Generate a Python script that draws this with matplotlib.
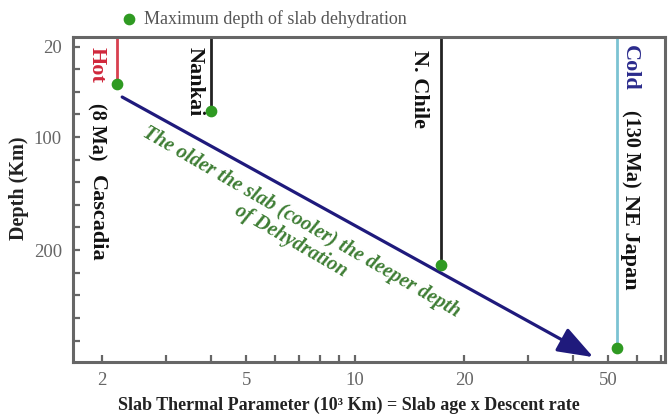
import matplotlib.pyplot as plt
from matplotlib.ticker import FixedLocator, FixedFormatter, NullFormatter

plt.rcParams['font.family'] = ['Liberation Serif', 'DejaVu Serif']

# subduction zones: slab thermal parameter (10^3 km) and max depth of dehydration (km)
zones = ['Cascadia', 'Nankai', 'N. Chile', 'NE Japan']
thermal_param = [2.19, 4.0, 17.3, 52.9]
max_depth = [53, 77, 213, 287]
line_colors = ['#d8404f', '#222222', '#222222', '#7cc3d3']

# trend arrow (start, end)
trend_x = [2.27, 45.5]
trend_y = [64.6, 294.7]

x_ticks = [2, 5, 10, 20, 50]
x_minor = [3, 4, 6, 7, 8, 9, 30, 40, 60, 70]
y_ticks = [20, 100, 200]
y_minor = [40, 60, 80, 120, 140, 160, 180, 220, 240, 260, 280]

y_top = 11.5
y_bottom = 299

fig = plt.figure(figsize=(6.7, 4.18), dpi=100)
ax = fig.add_axes([73/670, 1-362/418, 592/670, 325/418])

ax.set_xscale('log')
ax.set_xlim(1.66, 71.8)
ax.set_ylim(y_bottom, y_top)

# vertical lines from the top down to max dehydration depth
ax.vlines(thermal_param, y_top, max_depth, colors=line_colors, lw=2.0, zorder=2)
ax.scatter(thermal_param, max_depth, s=55, color='#2f9a22', zorder=4,
           label='Maximum depth of slab dehydration')

ax.annotate('', xy=(trend_x[1], trend_y[1]), xytext=(trend_x[0], trend_y[0]),
            arrowprops=dict(arrowstyle='-|>,head_length=1.1,head_width=0.4',
                            color='#1f1a7c', lw=2.3, mutation_scale=20,
                            shrinkA=0, shrinkB=0), zorder=3)

# zone labels (vertical)
vkw = dict(rotation=-90, ha='center', va='top', fontweight='bold')
ax.text(1.93, 20.4, 'Hot', color='#d0283c', fontsize=16, **vkw)
ax.text(1.93, 70, '(8 Ma)', color='#111111', fontsize=14.5, **vkw)
ax.text(1.93, 133.6, zones[0], color='#111111', fontsize=16, **vkw)
ax.text(3.61, 20.4, zones[1], color='#111111', fontsize=16, **vkw)
ax.text(15.0, 23, zones[2], color='#111111', fontsize=16, **vkw)
ax.text(57.5, 18.6, 'Cold', color='#2b2b8c', fontsize=16, **vkw)
ax.text(57.5, 76, '(130 Ma)', color='#111111', fontsize=14.5, **vkw)
ax.text(57.5, 151, zones[3], color='#111111', fontsize=16, **vkw)

ax.text(6.85, 183.6, 'The older the slab (cooler) the deeper depth\nof Dehydration',
        rotation=-30, rotation_mode='anchor', ha='center', va='center',
        fontsize=14.6, fontweight='bold', fontstyle='italic', color='#3e7d34',
        linespacing=1.1)

# axes styling
for sp in ax.spines.values():
    sp.set_color('#666666')
    sp.set_linewidth(2.2)

ax.xaxis.set_major_locator(FixedLocator(x_ticks))
ax.xaxis.set_major_formatter(FixedFormatter([str(v) for v in x_ticks]))
ax.xaxis.set_minor_locator(FixedLocator(x_minor))
ax.xaxis.set_minor_formatter(NullFormatter())
ax.yaxis.set_major_locator(FixedLocator(y_ticks))
ax.yaxis.set_minor_locator(FixedLocator(y_minor))

ax.tick_params(which='both', direction='in', length=5, width=1.6, color='#666666',
               labelcolor='#666666', labelsize=13.5, top=False, right=False)
ax.tick_params(axis='x', pad=7)
ax.tick_params(axis='y', pad=8)

ax.set_xlabel('Slab Thermal Parameter (10\u00b3 Km) = Slab age x Descent rate',
              fontsize=13, fontweight='bold', color='#222222')
ax.xaxis.set_label_coords(0.466, -0.108)
ax.set_ylabel('Depth (Km)', fontsize=14.5, fontweight='bold', color='#222222')
ax.yaxis.set_label_coords(-0.074, 0.535)

ax.legend(loc='center left', bbox_to_anchor=(0.083, 1.055), frameon=False,
          fontsize=13, handlelength=0.8, handletextpad=0.4, borderpad=0,
          borderaxespad=0, labelcolor='#555555', scatterpoints=1)

fig.savefig('out.png', dpi=100)
